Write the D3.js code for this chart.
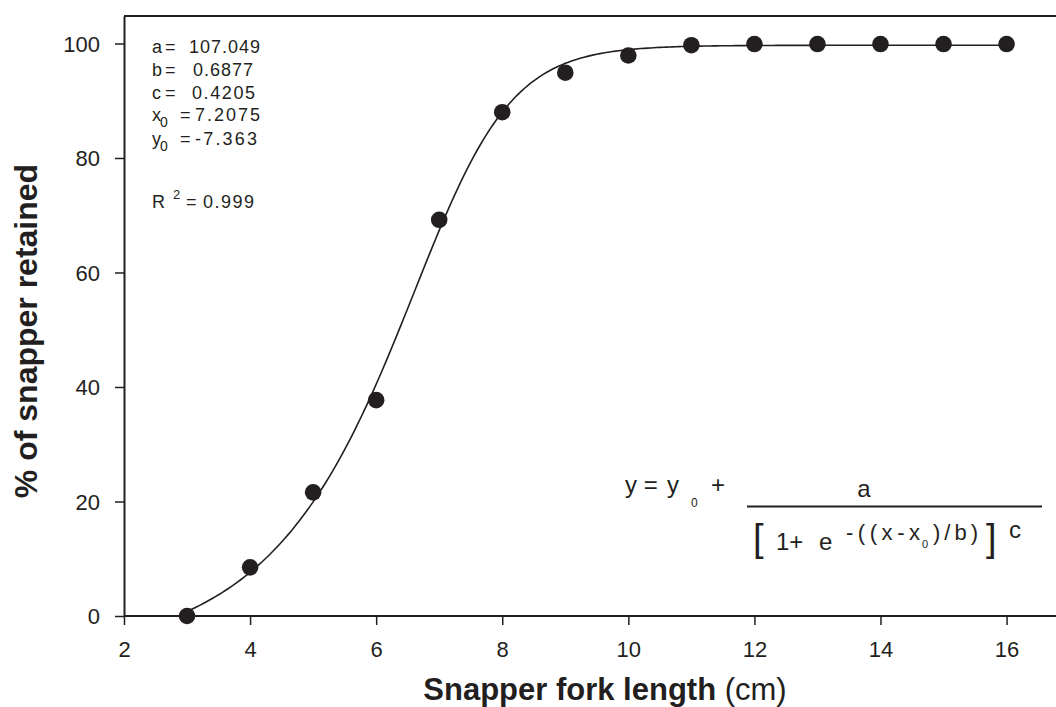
<!DOCTYPE html>
<html>
<head>
  <meta charset="utf-8">
  <script src="https://d3js.org/d3.v7.min.js"></script>
  <style>
    body { margin: 0; background: #fff; }
    svg { font-family: Arial, "Liberation Sans", sans-serif; }
  </style>
</head>
<body>
<svg id="chart"></svg>
<script>
// data
var forkLength = [3, 4, 5, 6, 7, 8, 9, 10, 11, 12, 13, 14, 15, 16];
var retained = [0, 8.5, 21.6, 37.7, 69.2, 88.0, 94.9, 97.9, 99.7, 99.9, 99.9, 99.9, 99.9, 99.9];
var xTicks = [2, 4, 6, 8, 10, 12, 14, 16];
var yTicks = [0, 20, 40, 60, 80, 100];

// fitted sigmoid parameters shown on the chart
var fitA = 107.049, fitB = 0.6877, fitC = 0.4205, fitX0 = 7.2075, fitY0 = -7.363;
var paramNames = ["a", "b", "c", "x", "y"];
var paramSubs = ["", "", "", "0", "0"];
var paramValues = ["107.049", "0.6877", "0.4205", "7.2075", "-7.363"];
var rSquared = "0.999";

var w = 1056, h = 707;
var ink = "#231f20";
var svg = d3.select("#chart").attr("width", w).attr("height", h);

var xScale = d3.scaleLinear().domain([2, 16.8]).range([124, 1057]);
var yScale = d3.scaleLinear().domain([0, 104.8]).range([616, 16]);

function fit(x) {
  return fitY0 + fitA / Math.pow(1 + Math.exp(-(x - fitX0) / fitB), fitC);
}

// top frame line
svg.append("line")
  .attr("x1", xScale(2)).attr("x2", w)
  .attr("y1", yScale(104.8)).attr("y2", yScale(104.8))
  .attr("stroke", ink).attr("stroke-width", 2);

var xAxis = d3.axisBottom(xScale).tickValues(xTicks).tickSize(9).tickPadding(16).tickSizeOuter(0);
var yAxis = d3.axisLeft(yScale).tickValues(yTicks).tickSize(9).tickPadding(15).tickSizeOuter(0);

var gx = svg.append("g")
  .attr("transform", "translate(0," + yScale(0) + ")")
  .call(xAxis);
var gy = svg.append("g")
  .attr("transform", "translate(" + xScale(2) + ",0)")
  .call(yAxis);

[gx, gy].forEach(function (g) {
  g.select(".domain").attr("stroke", ink).attr("stroke-width", 2);
  g.selectAll(".tick line").attr("stroke", ink).attr("stroke-width", 1.5);
  g.selectAll(".tick text").attr("fill", ink).attr("font-size", "22px")
    .attr("font-family", "Arial, 'Liberation Sans', sans-serif");
});
gx.select(".domain").attr("d", "M" + xScale(2) + ",0H" + w);
gy.selectAll(".tick text").attr("dy", "0.36em");

// fitted curve
var curveX = d3.range(3, 16.001, 0.05);
var line = d3.line()
  .x(function (d) { return xScale(d); })
  .y(function (d) { return yScale(fit(d)); });
svg.append("path")
  .datum(curveX)
  .attr("d", line)
  .attr("fill", "none")
  .attr("stroke", ink)
  .attr("stroke-width", 1.6);

// observed points
svg.selectAll("circle.pt")
  .data(forkLength)
  .enter()
  .append("circle")
  .attr("class", "pt")
  .attr("cx", function (d) { return xScale(d); })
  .attr("cy", function (d, i) { return yScale(retained[i]); })
  .attr("r", 8.3)
  .attr("fill", ink);

// parameter block
var pBase = [53, 76, 99, 121, 145];
var pEqX = [165, 165, 165, 180, 180];
var pValX = [189, 193, 192, 195, 195];
var pValEnd = [260, 253, 255, 260, 257];
var pb = svg.append("g").attr("fill", ink).attr("font-size", "18px");
paramNames.forEach(function (n, i) {
  pb.append("text").attr("x", 152).attr("y", pBase[i]).text(n);
  if (paramSubs[i]) {
    pb.append("text").attr("x", 160).attr("y", pBase[i] + 6)
      .attr("font-size", "14px").text(paramSubs[i]);
  }
  pb.append("text").attr("x", pEqX[i]).attr("y", pBase[i]).text("=");
  pb.append("text").attr("x", pValX[i]).attr("y", pBase[i])
    .attr("textLength", pValEnd[i] - pValX[i]).attr("lengthAdjust", "spacing")
    .text(paramValues[i]);
});
pb.append("text").attr("x", 152).attr("y", 208).text("R");
pb.append("text").attr("x", 173).attr("y", 199).attr("font-size", "13px").text("2");
pb.append("text").attr("x", 186).attr("y", 208).text("=");
pb.append("text").attr("x", 203).attr("y", 208)
  .attr("textLength", 51).attr("lengthAdjust", "spacing").text(rSquared);

// equation
var eq = svg.append("g").attr("fill", ink).attr("font-size", "24px");
eq.append("text").attr("x", 625).attr("y", 493).text("y =");
eq.append("text").attr("x", 667).attr("y", 493).text("y");
eq.append("text").attr("x", 691).attr("y", 507).attr("font-size", "12px").text("0");
eq.append("text").attr("x", 711).attr("y", 493).text("+");
eq.append("text").attr("x", 864).attr("y", 497).attr("text-anchor", "middle").text("a");
eq.append("line").attr("x1", 747).attr("x2", 1042).attr("y1", 506.5).attr("y2", 506.5)
  .attr("stroke", ink).attr("stroke-width", 2);
eq.append("text").attr("x", 753).attr("y", 551).attr("font-size", "38px").text("[");
eq.append("text").attr("x", 776).attr("y", 550).text("1+");
eq.append("text").attr("x", 819).attr("y", 550).text("e");
eq.append("text").attr("x", 846).attr("y", 540).attr("font-size", "22px")
  .attr("textLength", 74).attr("lengthAdjust", "spacing").text("-((x-x");
eq.append("text").attr("x", 922).attr("y", 548).attr("font-size", "11px").text("0");
eq.append("text").attr("x", 933).attr("y", 540).attr("font-size", "22px")
  .attr("textLength", 45).attr("lengthAdjust", "spacing").text(")/b)");
eq.append("text").attr("x", 986).attr("y", 551).attr("font-size", "38px").text("]");
eq.append("text").attr("x", 1009).attr("y", 538).text("c");

// axis titles
var xt = svg.append("text")
  .attr("x", 605).attr("y", 700)
  .attr("text-anchor", "middle")
  .attr("font-size", "31px").attr("fill", ink);
xt.append("tspan").attr("font-weight", "bold").text("Snapper fork length");
xt.append("tspan").text(" (cm)");

svg.append("text")
  .attr("transform", "translate(37,331)rotate(-90)")
  .attr("text-anchor", "middle")
  .attr("font-size", "32px").attr("font-weight", "bold").attr("fill", ink)
  .text("% of snapper retained");
</script>
</body>
</html>
